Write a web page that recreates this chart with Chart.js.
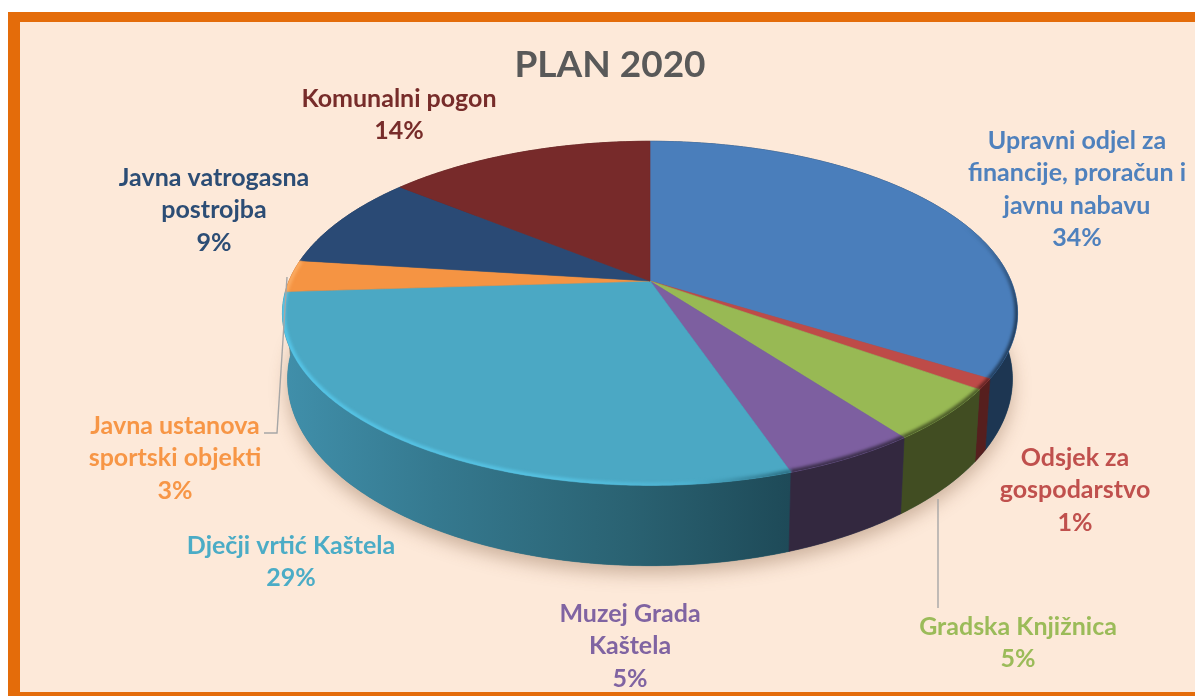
<!DOCTYPE html>
<html lang="hr">
<head>
<meta charset="utf-8">
<title>PLAN 2020</title>
<script src="https://cdn.jsdelivr.net/npm/chart.js@4/dist/chart.umd.min.js"></script>
<style>
html,body{margin:0;padding:0;background:#fff;width:1195px;height:696px;overflow:hidden}
#frame{position:absolute;left:8px;top:12px;right:0;bottom:0;box-sizing:border-box;background:#FDE9D9;border-left:12px solid #E46C0A;border-top:10px solid #E46C0A;border-bottom:4px solid #E46C0A}
canvas{position:absolute;left:0;top:0}
</style>
</head>
<body>
<div id="frame"></div>
<canvas id="c" width="1195" height="696"></canvas>
<script>
const titleText = 'PLAN 2020';
const categories = ['Upravni odjel za financije, proračun i javnu nabavu','Odsjek za gospodarstvo','Gradska Knjižnica','Muzej Grada Kaštela','Dječji vrtić Kaštela','Javna ustanova sportski objekti','Javna vatrogasna postrojba','Komunalni pogon'];
const values = [33.9,1.0,4.9,5.0,29.2,3.0,8.9,14.1];
const labelLines = [
  ['Upravni odjel za','financije, proračun i','javnu nabavu'],
  ['Odsjek za','gospodarstvo'],
  ['Gradska Knjižnica'],
  ['Muzej Grada','Kaštela'],
  ['Dječji vrtić Kaštela'],
  ['Javna ustanova','sportski objekti'],
  ['Javna vatrogasna','postrojba'],
  ['Komunalni pogon']
];
const faceColors = ['#4A7EBB','#BE4B48','#98B954','#7D5FA0','#4BA8C4','#F59443','#2A4A75','#772A2A'];
const textColors = ['#4F81BD','#C0504D','#9BBB59','#8064A2','#4BACC6','#F79646','#2C4D75','#772C2A'];
const wallColors = ['#1D3652','#561F1E','#414D22','#33283F','#2C6A7E','#B06020','#1C3350','#4F1C1C'];
const labelAnchors = [[1077,141],[1075,458],[1018,627],[630,614],[291,546],[175,426],[214,178],[399,99]];
const lineGap = 32.4;

// perspective disks: top face and bottom face of the pie
const topDisk = {cx:650, cy:281, a:361, b:166, p:0.188};
const lowDisk = {cx:650, cy:344, a:356, b:180, p:0.188};
function proj(d, th, r){
  const u = r*Math.sin(th), v = -r*Math.cos(th), w = 1 - d.p*v;
  return [d.cx + d.a*u/w, d.cy + d.b*v/w];
}
function trace(ctx, d, a0, a1, move){
  const n = Math.max(2, Math.ceil(Math.abs(a1-a0)/0.01));
  for(let i=0;i<=n;i++){
    const p = proj(d, a0+(a1-a0)*i/n, 1);
    if(i===0 && move) ctx.moveTo(p[0],p[1]); else ctx.lineTo(p[0],p[1]);
  }
}
const pie3d = {
  id:'pie3d',
  beforeDatasetDraw(chart){
    const ctx = chart.ctx;
    const arcs = chart.getDatasetMeta(0).data.map((e,i)=>({i, a0:e.startAngle+Math.PI/2, a1:e.endAngle+Math.PI/2}));
    ctx.save();
    // ground shadow
    ctx.save();
    ctx.shadowColor='rgba(110,70,40,0.34)'; ctx.shadowBlur=18; ctx.shadowOffsetY=8; ctx.shadowOffsetX=0;
    ctx.fillStyle='#2C6A7E';
    ctx.beginPath(); trace(ctx,lowDisk,0,Math.PI*2,true); ctx.closePath(); ctx.fill();
    ctx.restore();
    // walls, back to front
    const sorted = arcs.slice().sort((p,q)=>(-Math.cos((p.a0+p.a1)/2))-(-Math.cos((q.a0+q.a1)/2)));
    sorted.forEach(s=>{
      let fill = wallColors[s.i];
      if(s.i===4){
        const g = ctx.createLinearGradient(285,0,790,0);
        g.addColorStop(0,'#408FAA'); g.addColorStop(0.3,'#35798F'); g.addColorStop(0.68,'#2A6272'); g.addColorStop(1,'#1E4A58');
        fill = g;
      }
      ctx.fillStyle=fill; ctx.strokeStyle=fill; ctx.lineWidth=0.6;
      ctx.beginPath(); trace(ctx,topDisk,s.a0,s.a1,true); trace(ctx,lowDisk,s.a1,s.a0,false); ctx.closePath(); ctx.fill(); ctx.stroke();
    });
    // top faces
    arcs.forEach(s=>{
      ctx.fillStyle=faceColors[s.i]; ctx.strokeStyle=faceColors[s.i]; ctx.lineWidth=0.6;
      ctx.beginPath(); ctx.moveTo(topDisk.cx,topDisk.cy); trace(ctx,topDisk,s.a0,s.a1,false); ctx.closePath(); ctx.fill(); ctx.stroke();
    });
    // soft bevel along the front rim, kept inside the top face
    ctx.save();
    ctx.beginPath(); trace(ctx,topDisk,0,Math.PI*2,true); ctx.closePath(); ctx.clip();
    ctx.filter='blur(1.4px)'; ctx.lineCap='butt';
    arcs.forEach(s=>{
      if(s.i===6 || s.i===7) return;
      ctx.lineWidth = 6;
      ctx.globalAlpha = 0.85;
      ctx.strokeStyle = s.i===5 ? '#FBAE66' : wallColors[s.i];
      if(s.i===0){
        const g = ctx.createLinearGradient(0,225,0,310);
        g.addColorStop(0,'rgba(29,54,82,0)'); g.addColorStop(1,'rgba(29,54,82,1)');
        ctx.strokeStyle=g;
      }
      if(s.i===4){
        ctx.globalAlpha = 1;
        const g = ctx.createLinearGradient(280,0,790,0);
        g.addColorStop(0,'#55C4E6'); g.addColorStop(0.55,'#55C0E0'); g.addColorStop(0.8,'#4DB2D0'); g.addColorStop(1,'#2E7186');
        ctx.strokeStyle=g;
      }
      ctx.beginPath(); trace(ctx,topDisk,s.a0,s.a1,true); ctx.stroke();
    });
    ctx.restore();
    ctx.restore();
    return false;
  },
  afterDatasetsDraw(chart){
    const ctx = chart.ctx;
    ctx.save();
    // leader lines
    ctx.strokeStyle='#A6A6A6'; ctx.lineWidth=1.4;
    ctx.beginPath(); ctx.moveTo(938,499); ctx.lineTo(938,608); ctx.stroke();
    ctx.beginPath(); ctx.moveTo(287,277); ctx.lineTo(277,433); ctx.lineTo(264,433); ctx.stroke();
    // data labels
    ctx.font='bold 25px Lato';
    ctx.textAlign='center'; ctx.textBaseline='middle';
    values.forEach((v,i)=>{
      ctx.fillStyle=textColors[i];
      labelLines[i].concat([Math.round(v)+'%']).forEach((t,k)=>{
        ctx.fillText(t,labelAnchors[i][0],labelAnchors[i][1]+k*lineGap);
      });
    });
    ctx.restore();
  }
};
new Chart(document.getElementById('c'),{
  type:'pie',
  data:{labels:categories,datasets:[{data:values,backgroundColor:faceColors,borderWidth:0}]},
  options:{
    responsive:false,animation:false,
    layout:{padding:{left:25,right:0,top:0,bottom:0}},
    plugins:{
      legend:{display:false},tooltip:{enabled:false},
      title:{display:true,text:titleText,color:'#595959',font:{family:'Lato',size:37,weight:'bold'},padding:{top:43,bottom:10}}
    }
  },
  plugins:[pie3d]
});
</script>
</body>
</html>
